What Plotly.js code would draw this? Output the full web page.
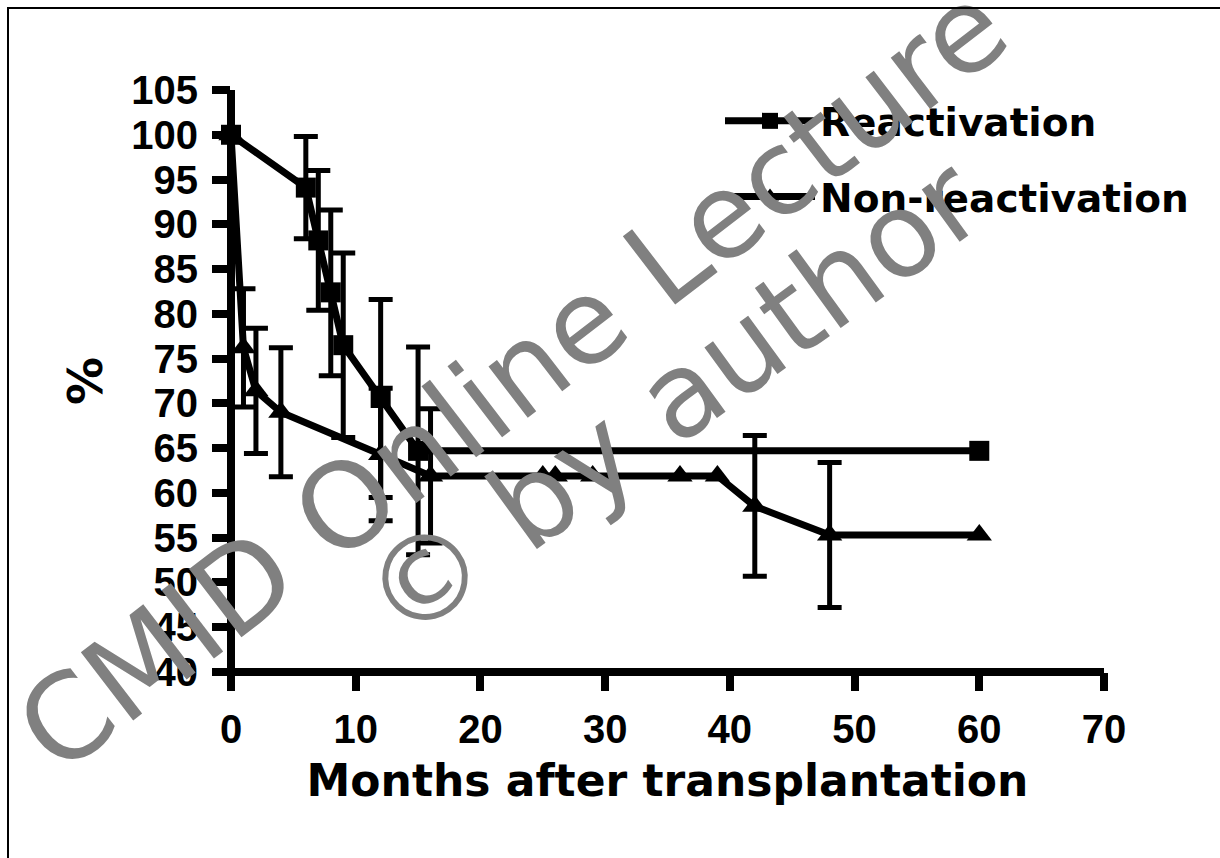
<!DOCTYPE html>
<html>
<head>
<meta charset="utf-8">
<script src="https://cdn.plot.ly/plotly-3.0.1.min.js"></script>
<style>
  html, body { margin: 0; padding: 0; background: #fff; }
  #wrap { position: relative; width: 1220px; height: 858px; overflow: hidden; }
  #chart { position: absolute; left: 0; top: 0; width: 1220px; height: 858px; }
  #frame { position: absolute; left: 7px; top: 7px; width: 1230px; height: 870px;
           border-left: 2px solid #000; border-top: 2px solid #000; pointer-events: none; }
</style>
</head>
<body>
<div id="wrap"><div id="chart"></div><div id="frame"></div></div>
<script>
// ---- Data ----
const seriesNames = ["Reactivation", "Non-reactivation"];

const reactMonths = [0, 6, 7, 8, 9, 12, 15, 60];
const reactPct    = [100, 94.1, 88.2, 82.4, 76.5, 70.6, 64.7, 64.7];
const reactUpper  = [null, 99.8, 96.0, 91.6, 86.8, 81.6, 76.3, null];
const reactLower  = [null, 88.4, 80.4, 73.1, 66.2, 59.5, 53.1, null];

const nonMonths = [0, 1, 2, 4, 12, 16, 25, 26, 29, 36, 39, 42, 48, 60];
const nonPct    = [100, 76.2, 71.4, 69.0, 64.3, 61.9, 61.9, 61.9, 61.9, 61.9, 61.9, 58.5, 55.3, 55.3];
const nonUpper  = [null, 82.8, 78.4, 76.2, 71.7, 69.4, null, null, null, null, null, 66.4, 63.4, null];
const nonLower  = [null, 69.6, 64.4, 61.8, 56.9, 54.4, null, null, null, null, null, 50.7, 47.2, null];

const xTicks = [0, 10, 20, 30, 40, 50, 60, 70];
const yTicks = [40, 45, 50, 55, 60, 65, 70, 75, 80, 85, 90, 95, 100, 105];

const xTitle = "Months after transplantation";
const yTitle = "%";
const watermark1 = "CMID Online Lecture";
const watermark2 = "© by author";

// ---- helpers ----
function plus(vals, up)  { return vals.map((v, i) => up[i] == null ? NaN : up[i] - v); }
function minus(vals, lo) { return vals.map((v, i) => lo[i] == null ? NaN : v - lo[i]); }

const errStyle = { color: "#000", thickness: 5, width: 12 };

const traces = [
  {
    x: reactMonths, y: reactPct, name: seriesNames[0], type: "scatter", mode: "lines+markers",
    legendgroup: "a", cliponaxis: false,
    line: { color: "#000", width: 7 },
    marker: { symbol: "square", size: 20, color: "#000" },
    error_y: Object.assign({ type: "data", symmetric: false,
      array: plus(reactPct, reactUpper), arrayminus: minus(reactPct, reactLower) }, errStyle)
  },
  {
    x: nonMonths, y: nonPct, name: seriesNames[1], type: "scatter", mode: "lines+markers",
    legendgroup: "b", cliponaxis: false,
    line: { color: "#000", width: 7 },
    marker: { symbol: "triangle-up", size: 22, color: "#000" },
    error_y: Object.assign({ type: "data", symmetric: false,
      array: plus(nonPct, nonUpper), arrayminus: minus(nonPct, nonLower) }, errStyle)
  }
];

const L = 231, R = 116, T = 90, B = 186;
const W = 1220 - L - R, H = 858 - T - B;

const tickFont = { family: "Liberation Sans, Arial, sans-serif", size: 40, color: "#000", weight: 700 };
const boldFont = { family: "DejaVu Sans, Verdana, sans-serif", color: "#000", weight: 700 };
const wmFont1 = { family: "DejaVu Sans, Verdana, sans-serif", size: 118, color: "#808080" };
const wmFont2 = { family: "DejaVu Sans, Verdana, sans-serif", size: 118, color: "#808080" };

const layout = {
  width: 1220, height: 858,
  margin: { l: L, r: R, t: T, b: B, pad: 0 },
  paper_bgcolor: "#fff", plot_bgcolor: "#fff",
  showlegend: true,
  legend: {
    x: (720 - L) / W, y: 1 - (89 - T) / H, xanchor: "left", yanchor: "top",
    bgcolor: "rgba(0,0,0,0)", borderwidth: 0,
    font: Object.assign({ size: 39 }, boldFont),
    itemwidth: 90, traceorder: "grouped", tracegroupgap: 22
  },
  xaxis: {
    range: [0, 70], tickvals: xTicks, ticktext: xTicks.map(String),
    showgrid: false, zeroline: false, showline: false,
    ticks: "outside", ticklen: 18, tickwidth: 8, tickcolor: "#000",
    tickfont: tickFont, ticklabelstandoff: 4,
    title: { text: xTitle, font: Object.assign({ size: 44 }, boldFont), standoff: 15 },
    fixedrange: true
  },
  yaxis: {
    range: [40, 105], tickvals: yTicks, ticktext: yTicks.map(String),
    showgrid: false, zeroline: false, showline: false,
    ticks: "outside", ticklen: 18, tickwidth: 8, tickcolor: "#000",
    tickfont: tickFont, ticklabelstandoff: 6,
    title: { text: yTitle, font: Object.assign({ size: 48 }, boldFont), standoff: 13 },
    fixedrange: true
  },
  shapes: [
    { type: "line", xref: "paper", yref: "paper", x0: 0, x1: 0, y0: -4 / H, y1: 1,
      line: { color: "#000", width: 8 }, layer: "above" },
    { type: "line", xref: "paper", yref: "paper", x0: 0, x1: 1, y0: 0, y1: 0,
      line: { color: "#000", width: 8 }, layer: "above" }
  ],
  annotations: [
    { text: watermark1, xref: "paper", yref: "paper",
      x: (512 - L) / W, y: (672 - 378) / H, xanchor: "center", yanchor: "middle",
      showarrow: false, textangle: -37.5, font: wmFont1 },
    { text: watermark2, xref: "paper", yref: "paper",
      x: (672 - L) / W, y: (672 - 400) / H, xanchor: "center", yanchor: "middle",
      showarrow: false, textangle: -36, font: wmFont2 }
  ]
};

Plotly.newPlot("chart", traces, layout, { displayModeBar: false, staticPlot: true });
</script>
</body>
</html>
